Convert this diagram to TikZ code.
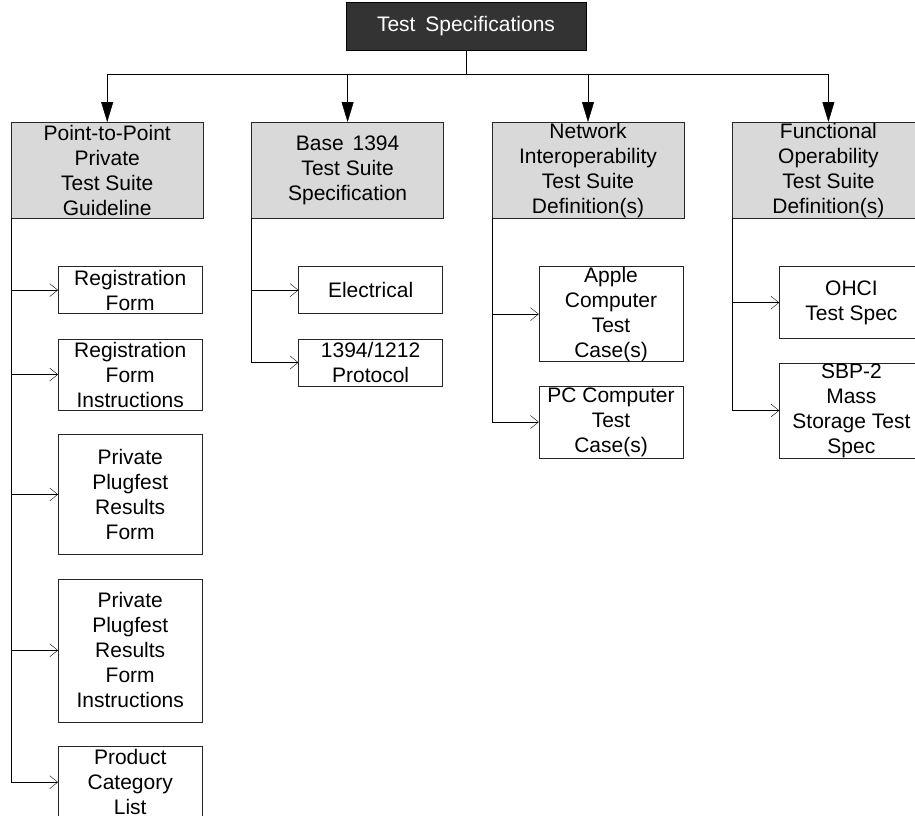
\documentclass[tikz,border=0pt]{standalone}
\usepackage{fontspec}
\setmainfont{Liberation Sans}
\usetikzlibrary{positioning, arrows.meta}
\tikzset{
    every node/.style={font=\fontsize{21}{25}\selectfont, align=center, inner sep=0pt}, % Arial-like text everywhere
    headbox/.style={draw=black, fill=black!80, text=white, minimum width=240pt, minimum height=48pt}, % the dark box on top
    suitebox/.style={draw=black!85, fill=black!15, minimum width=192pt, minimum height=96pt}, % grey suite boxes
    itembox/.style={draw=black!85, fill=white, minimum width=144pt}, % white leaf boxes
    bigarrow/.style={-{Triangle[length=20pt, width=12pt]}}, % filled heads under the bar
    smallarrow/.style={-{Straight Barb[length=8pt, width=13pt]}}, % open heads into the leaves
    line width=0.8pt,
}
\begin{document}
\begin{tikzpicture}[x=1pt, y=-1pt]
    \useasboundingbox (0,0) rectangle (915,815);
    \node[headbox] (spec) at (466,26) {Test\hspace{4pt} Specifications};
    \coordinate (bar) at (466,74);

    \node[suitebox, anchor=north west] (ptp) at (11,122) {Point-to-Point\\Private\\Test Suite\\Guideline};
    \node[suitebox, right=48pt of ptp] (base) {Base\hspace{3pt} 1394\\Test Suite\\Specification};
    \node[suitebox, right=48pt of base] (net) {Network\\Interoperability\\Test Suite\\Definition(s)};
    \node[suitebox, right=48pt of net] (func) {Functional\\Operability\\Test Suite\\Definition(s)};

    % first column
    \node[itembox, minimum height=47pt, below right=48pt and 47pt of ptp.south west] (regform) {Registration\\Form};
    \node[itembox, minimum height=71pt, below=25pt of regform] (reginstr) {Registration\\Form\\Instructions};
    \node[itembox, minimum height=120pt, below=24pt of reginstr] (results) {Private\\Plugfest\\Results\\Form};
    \node[itembox, minimum height=143pt, below=24pt of results] (resinstr) {Private\\Plugfest\\Results\\Form\\Instructions};
    \node[itembox, minimum height=72pt, below=24pt of resinstr] (category) {Product\\Category\\List};

    % second column
    \node[itembox, minimum height=47pt, below right=48pt and 47pt of base.south west] (elec) {Electrical};
    \node[itembox, minimum height=47pt, below=25pt of elec] (proto) {1394/1212\\Protocol};

    % third column
    \node[itembox, minimum height=95pt, below right=48pt and 47pt of net.south west] (apple) {Apple\\Computer\\Test\\Case(s)};
    \node[itembox, minimum height=72pt, below=24pt of apple] (pc) {PC Computer\\Test\\Case(s)};

    % fourth column
    \node[itembox, minimum height=72pt, below right=48pt and 47pt of func.south west] (ohci) {OHCI\\Test Spec};
    \node[itembox, minimum height=95pt, below=24pt of ohci] (sbp) {SBP-2\\Mass\\Storage Test\\Spec};

    \draw (spec) -- (bar);
    \draw (bar -| ptp) -- (bar -| func);
    \draw[bigarrow] (bar -| ptp) -- (ptp);
    \draw[bigarrow] (bar -| base) -- (base);
    \draw[bigarrow] (bar -| net) -- (net);
    \draw[bigarrow] (bar -| func) -- (func);

    \draw[smallarrow] (ptp.south west) |- (regform);
    \draw[smallarrow] (ptp.south west) |- (reginstr);
    \draw[smallarrow] (ptp.south west) |- (results);
    \draw[smallarrow] (ptp.south west) |- (resinstr);
    \draw[smallarrow] (ptp.south west) |- (category);
    \draw[smallarrow] (base.south west) |- (elec);
    \draw[smallarrow] (base.south west) |- (proto);
    \draw[smallarrow] (net.south west) |- (apple);
    \draw[smallarrow] (net.south west) |- (pc);
    \draw[smallarrow] (func.south west) |- (ohci);
    \draw[smallarrow] (func.south west) |- (sbp);
\end{tikzpicture}
\end{document}
